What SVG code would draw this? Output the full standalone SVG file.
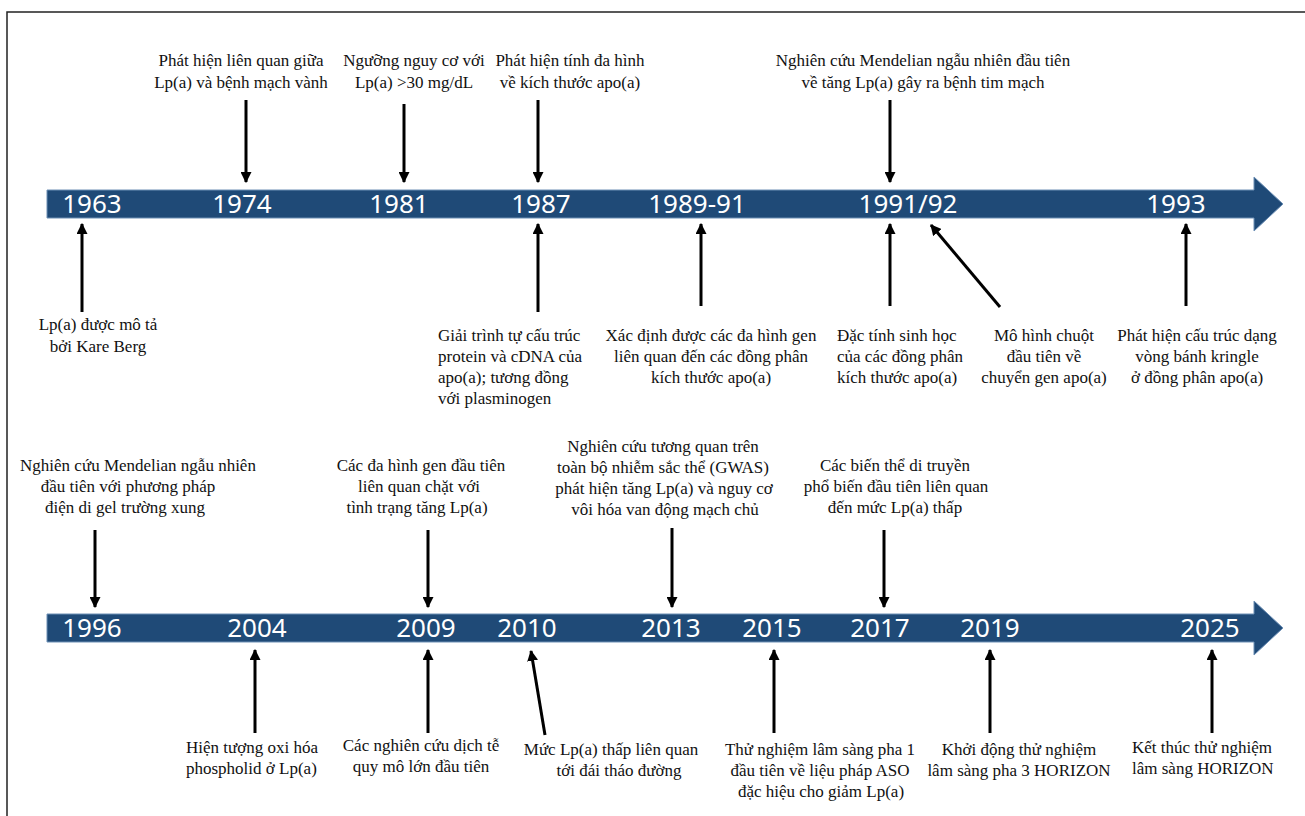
<svg xmlns="http://www.w3.org/2000/svg" width="1305" height="816" viewBox="0 0 1305 816">
<style>
.lbl{font-family:"Liberation Serif","Times New Roman",serif;font-size:17px;fill:#111}
.c{text-anchor:middle}
.yr{font-family:"Noto Sans","Liberation Sans",sans-serif;font-size:26px;fill:#fff;text-anchor:middle}
.bar{fill:#1f4a77;stroke:#6d8fb5;stroke-width:1}
.ar{stroke:#000;stroke-width:3;fill:none;marker-end:url(#ah)}
</style>
<defs>
<marker id="ah" viewBox="0 0 10 10" refX="9" refY="5" markerUnits="userSpaceOnUse" markerWidth="11" markerHeight="11" orient="auto">
<path d="M0,0 L10,5 L0,10 z" fill="#000"/>
</marker>
</defs>
<rect width="1305" height="816" fill="#fff"/>
<path d="M7,816 V12 H1305" fill="none" stroke="#222" stroke-width="1.5"/>

<g id="timeline1">
<path class="bar" d="M47,190 H1254 V177 L1283,204 L1254,231 V218 H47 z"/>
<text class="yr" x="92" y="213">1963</text>
<text class="yr" x="242" y="213">1974</text>
<text class="yr" x="399" y="213">1981</text>
<text class="yr" x="541" y="213">1987</text>
<text class="yr" x="697" y="213">1989-91</text>
<text class="yr" x="908" y="213">1991/92</text>
<text class="yr" x="1176" y="213">1993</text>
</g>

<g id="timeline2">
<path class="bar" d="M47,614 H1254 V601 L1283,628 L1254,655 V642 H47 z"/>
<text class="yr" x="92" y="637">1996</text>
<text class="yr" x="257" y="637">2004</text>
<text class="yr" x="426" y="637">2009</text>
<text class="yr" x="527" y="637">2010</text>
<text class="yr" x="671" y="637">2013</text>
<text class="yr" x="772" y="637">2015</text>
<text class="yr" x="880" y="637">2017</text>
<text class="yr" x="990" y="637">2019</text>
<text class="yr" x="1210" y="637">2025</text>
</g>

<g id="connectors">
<line class="ar" x1="246" y1="100" x2="246" y2="182"/>
<line class="ar" x1="404" y1="104" x2="404" y2="182"/>
<line class="ar" x1="538" y1="100" x2="538" y2="182"/>
<line class="ar" x1="890" y1="100" x2="890" y2="182"/>
<line class="ar" x1="82" y1="312" x2="82" y2="224"/>
<line class="ar" x1="538" y1="312" x2="538" y2="224"/>
<line class="ar" x1="701" y1="306" x2="701" y2="224"/>
<line class="ar" x1="890" y1="306" x2="890" y2="224"/>
<line class="ar" x1="1000" y1="307" x2="931" y2="225"/>
<line class="ar" x1="1186" y1="306" x2="1186" y2="224"/>
<line class="ar" x1="95" y1="530" x2="95" y2="607"/>
<line class="ar" x1="428" y1="530" x2="428" y2="607"/>
<line class="ar" x1="672" y1="528" x2="672" y2="607"/>
<line class="ar" x1="884" y1="530" x2="884" y2="607"/>
<line class="ar" x1="255" y1="733" x2="255" y2="650"/>
<line class="ar" x1="428" y1="733" x2="428" y2="650"/>
<line class="ar" x1="545" y1="735" x2="531" y2="651"/>
<line class="ar" x1="774" y1="733" x2="774" y2="650"/>
<line class="ar" x1="990" y1="733" x2="990" y2="650"/>
<line class="ar" x1="1212" y1="733" x2="1212" y2="650"/>
</g>

<g id="n1974"><text class="lbl c" x="241" y="66">Phát hiện liên quan giữa</text><text class="lbl c" x="241" y="88">Lp(a) và bệnh mạch vành</text></g>
<g id="n1981"><text class="lbl c" x="414" y="66">Ngưỡng nguy cơ với</text><text class="lbl c" x="414" y="88">Lp(a) &gt;30 mg/dL</text></g>
<g id="n1987a"><text class="lbl c" x="570" y="66">Phát hiện tính đa hình</text><text class="lbl c" x="570" y="88">về kích thước apo(a)</text></g>
<g id="n1991a"><text class="lbl c" x="923" y="66">Nghiên cứu Mendelian ngẫu nhiên đầu tiên</text><text class="lbl c" x="923" y="88">về tăng Lp(a) gây ra bệnh tim mạch</text></g>

<g id="n1963"><text class="lbl c" x="98" y="330">Lp(a) được mô tả</text><text class="lbl c" x="98" y="352">bởi Kare Berg</text></g>
<g id="n1987b"><text class="lbl" x="438" y="341">Giải trình tự cấu trúc</text><text class="lbl" x="438" y="362">protein và cDNA của</text><text class="lbl" x="438" y="383">apo(a); tương đồng</text><text class="lbl" x="438" y="404">với plasminogen</text></g>
<g id="n1989"><text class="lbl c" x="711" y="341">Xác định được các đa hình gen</text><text class="lbl c" x="711" y="362">liên quan đến các đồng phân</text><text class="lbl c" x="711" y="383">kích thước apo(a)</text></g>
<g id="n1991b"><text class="lbl" x="837" y="341">Đặc tính sinh học</text><text class="lbl" x="837" y="362">của các đồng phân</text><text class="lbl" x="837" y="383">kích thước apo(a)</text></g>
<g id="n1991c"><text class="lbl c" x="1044" y="341">Mô hình chuột</text><text class="lbl c" x="1044" y="362">đầu tiên về</text><text class="lbl c" x="1044" y="383">chuyển gen apo(a)</text></g>
<g id="n1993"><text class="lbl c" x="1197" y="341">Phát hiện cấu trúc dạng</text><text class="lbl c" x="1197" y="362">vòng bánh kringle</text><text class="lbl c" x="1197" y="383">ở đồng phân apo(a)</text></g>

<g id="n1996"><text class="lbl c" x="138" y="471">Nghiên cứu Mendelian ngẫu nhiên</text><text class="lbl c" x="128" y="492">đầu tiên với phương pháp</text><text class="lbl c" x="125" y="513">điện di gel trường xung</text></g>
<g id="n2009a"><text class="lbl c" x="421" y="471">Các đa hình gen đầu tiên</text><text class="lbl c" x="419" y="492">liên quan chặt với</text><text class="lbl c" x="417" y="513">tình trạng tăng Lp(a)</text></g>
<g id="n2013"><text class="lbl c" x="663" y="452">Nghiên cứu tương quan trên</text><text class="lbl c" x="663" y="473">toàn bộ nhiễm sắc thể (GWAS)</text><text class="lbl c" x="664" y="494">phát hiện tăng Lp(a) và nguy cơ</text><text class="lbl c" x="665" y="515">vôi hóa van động mạch chủ</text></g>
<g id="n2017"><text class="lbl c" x="895" y="471">Các biến thể di truyền</text><text class="lbl c" x="896" y="492">phổ biến đầu tiên liên quan</text><text class="lbl c" x="895" y="513">đến mức Lp(a) thấp</text></g>

<g id="n2004"><text class="lbl" x="186" y="753">Hiện tượng oxi hóa</text><text class="lbl" x="186" y="774">phospholid ở Lp(a)</text></g>
<g id="n2009b"><text class="lbl c" x="421" y="751">Các nghiên cứu dịch tễ</text><text class="lbl c" x="421" y="772">quy mô lớn đầu tiên</text></g>
<g id="n2010"><text class="lbl c" x="611" y="755">Mức Lp(a) thấp liên quan</text><text class="lbl c" x="619" y="776">tới đái tháo đường</text></g>
<g id="n2015"><text class="lbl c" x="820" y="755">Thử nghiệm lâm sàng pha 1</text><text class="lbl c" x="820" y="776">đầu tiên về liệu pháp ASO</text><text class="lbl c" x="821" y="797">đặc hiệu cho giảm Lp(a)</text></g>
<g id="n2019"><text class="lbl c" x="1019" y="755">Khởi động thử nghiệm</text><text class="lbl c" x="1019" y="776">lâm sàng pha 3 HORIZON</text></g>
<g id="n2025"><text class="lbl" x="1132" y="753">Kết thúc thử nghiệm</text><text class="lbl" x="1132" y="774">lâm sàng HORIZON</text></g>
</svg>
